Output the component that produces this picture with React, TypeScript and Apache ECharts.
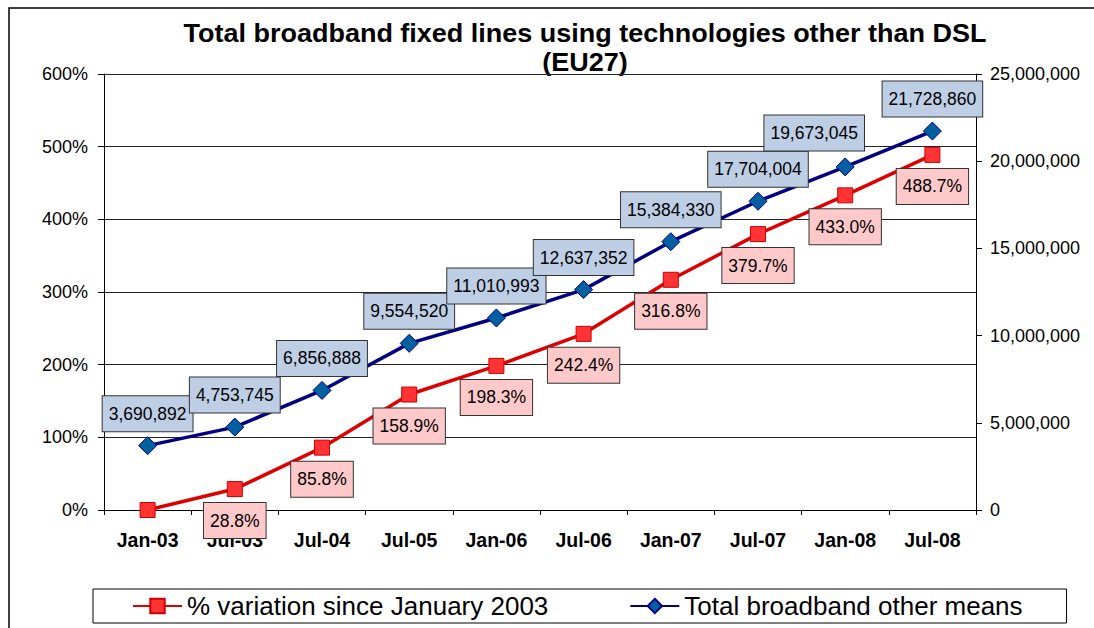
import React, { useEffect, useRef } from "react";
import * as echarts from "echarts";

const categories = ["Jan-03", "Jul-03", "Jul-04", "Jul-05", "Jan-06", "Jul-06", "Jan-07", "Jul-07", "Jan-08", "Jul-08"];
const variationPct = [0, 28.8, 85.8, 158.9, 198.3, 242.4, 316.8, 379.7, 433.0, 488.7];
const totalLines = [3690892, 4753745, 6856888, 9554520, 11010993, 12637352, 15384330, 17704004, 19673045, 21728860];
const seriesNames = ["% variation since January 2003", "Total broadband other means"];
const titleText = "Total broadband fixed lines using technologies other than DSL\n(EU27)";

const FONT = "'Liberation Sans', Arial, sans-serif";

export default function App() {
  const ref = useRef<HTMLDivElement>(null);
  useEffect(() => {
    if (!ref.current) return;
    const chart = echarts.init(ref.current, null, { renderer: "svg" });
    const fmtNum = (v: number) => Math.round(v).toLocaleString("en-US");
    const labelBase = {
      show: true,
      fontFamily: FONT,
      fontSize: 17.5,
      lineHeight: 19,
      color: "#000",
      borderColor: "#333",
      borderWidth: 1,
      padding: [8, 6, 8, 6],
    };
    chart.setOption({
      animation: false,
      backgroundColor: "#fff",
      textStyle: { fontFamily: FONT },
      graphic: [
        {
          type: "rect",
          shape: { x: 9, y: 8, width: 2000, height: 2000 },
          style: { fill: "none", stroke: "#000", lineWidth: 1.5 },
          silent: true,
          z: -10,
        },
        {
          type: "text",
          x: 585,
          y: 19,
          scaleX: 1.08,
          style: {
            text: titleText,
            textAlign: "center",
            fontFamily: FONT,
            fontWeight: "bold",
            fontSize: 25,
            lineHeight: 29,
            fill: "#000",
          },
        },
      ],
      legend: {
        left: 93,
        top: 589,
        padding: [4, 44, 4, 39],
        borderColor: "#000",
        borderWidth: 1,
        itemWidth: 49,
        itemHeight: 18,
        itemGap: 81,
        textStyle: { fontFamily: FONT, fontSize: 26, color: "#000" },
        data: seriesNames,
      },
      grid: { left: 104, right: 118, top: 74, bottom: 118, containLabel: false },
      xAxis: {
        type: "category",
        data: categories,
        boundaryGap: true,
        axisLine: { lineStyle: { color: "#000", width: 1 } },
        axisTick: { show: true, length: 5, lineStyle: { color: "#000" } },
        axisLabel: { fontFamily: FONT, fontSize: 19.5, fontWeight: "bold", color: "#000", margin: 20 },
      },
      yAxis: [
        {
          type: "value",
          min: 0,
          max: 600,
          interval: 100,
          axisLine: { show: true, lineStyle: { color: "#000" } },
          axisTick: { show: true, length: 6, lineStyle: { color: "#000" } },
          axisLabel: { fontFamily: FONT, fontSize: 18, color: "#000", margin: 16, formatter: (v: number) => v + "%" },
          splitLine: { show: true, lineStyle: { color: "#222", width: 1 } },
        },
        {
          type: "value",
          min: 0,
          max: 25000000,
          interval: 5000000,
          position: "right",
          axisLine: { show: true, lineStyle: { color: "#000" } },
          axisTick: { show: true, inside: false, length: 6, lineStyle: { color: "#000" } },
          axisLabel: { fontFamily: FONT, fontSize: 18, color: "#000", margin: 14, formatter: (v: number) => fmtNum(v) },
          splitLine: { show: false },
        },
      ],
      series: [
        {
          name: seriesNames[0],
          type: "line",
          yAxisIndex: 0,
          symbol: "rect",
          symbolSize: 15,
          lineStyle: { color: "#DD0000", width: 3.5 },
          itemStyle: { color: "#FF3333", borderColor: "#CC0000", borderWidth: 1 },
          data: variationPct.map((v, i) => ({
            value: v,
            label: i === 0 ? { show: false } : undefined,
          })),
          label: {
            ...labelBase,
            position: "bottom",
            distance: 6,
            backgroundColor: "#FFC9C9",
            formatter: (p: any) => Number(p.value).toFixed(1) + "%",
          },
          z: 3,
        },
        {
          name: seriesNames[1],
          type: "line",
          yAxisIndex: 1,
          symbol: "diamond",
          symbolSize: 18,
          lineStyle: { color: "#000080", width: 3.5 },
          itemStyle: { color: "#00609F", borderColor: "#000080", borderWidth: 1 },
          data: totalLines.map((v, i) => ({
            value: v,
            label: i === 8 ? { offset: [-31, -2] } : undefined,
          })),
          label: {
            ...labelBase,
            position: "top",
            distance: 5,
            backgroundColor: "#BDCEE5",
            formatter: (p: any) => fmtNum(Number(p.value)),
          },
          z: 4,
        },
      ],
    });
    return () => chart.dispose();
  }, []);
  return (
    <div
      ref={ref}
      style={{ position: "fixed", left: 0, top: 0, width: 1094, height: 628, background: "#fff" }}
    />
  );
}
